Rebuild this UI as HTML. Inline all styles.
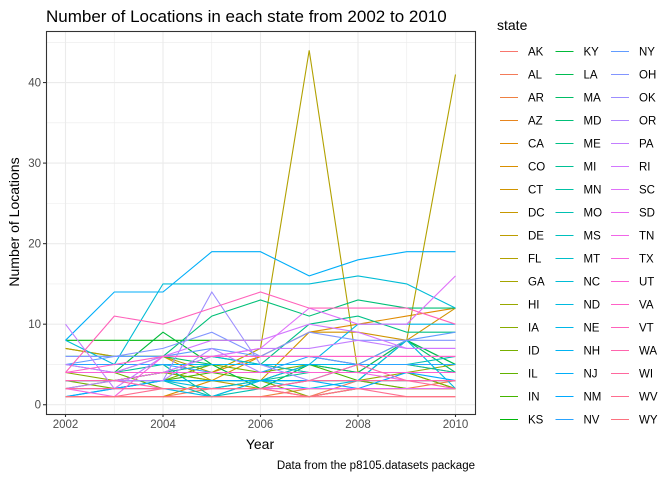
<!DOCTYPE html>
<html><head><meta charset="utf-8">
<style>
html,body{margin:0;padding:0;background:#fff;}
svg{display:block;font-family:"Liberation Sans",sans-serif;}
</style></head>
<body>
<svg id="chart" width="672" height="480" viewBox="0 0 672 480">
<text x="46" y="22" font-size="17" fill="#000">Number of Locations in each state from 2002 to 2010</text>
<rect x="46" y="31" width="429" height="383" fill="#fff"/>
<g id="grid"></g>
<g id="lines"></g>
<rect x="46.5" y="31.5" width="429" height="383" fill="none" stroke="#333" stroke-width="1.1"/>
<g id="axes"></g>
<text x="260" y="449" font-size="14" text-anchor="middle" fill="#000">Year</text>
<text transform="translate(19,222) rotate(-90)" font-size="14" text-anchor="middle" fill="#000">Number of Locations</text>
<text x="475" y="469" font-size="11.5" text-anchor="end" fill="#000">Data from the p8105.datasets package</text>
<text x="497" y="30" font-size="14" fill="#000">state</text>
<g id="legend"></g>
</svg>
<script>
const years = [2002,2003,2004,2005,2006,2007,2008,2009,2010];
const xTicks = [2002,2004,2006,2008,2010];
const yTicks = [0,10,20,30,40];
const states = ["AK","AL","AR","AZ","CA","CO","CT","DC","DE","FL","GA","HI","IA","ID","IL","IN","KS","KY","LA","MA","MD","ME","MI","MN","MO","MS","MT","NC","ND","NE","NH","NJ","NM","NV","NY","OH","OK","OR","PA","RI","SC","SD","TN","TX","UT","VA","VT","WA","WI","WV","WY"];
const AK=[null,null,null,null,1,1,2,2,2];
const AL=[1,1,1,2,2,1,3,2,2];
const AR=[null,null,1,1,1,2,2,2,3];
const AZ=[2,2,2,null,null,3,3,3,3];
const CA=[3,3,4,4,6,9,10,11,12];
const CO=[null,null,1,3,6,6,5,5,4];
const CT=[7,6,6,3,3,9,9,8,12];
const DC=[null,null,null,null,null,2,2,2,2];
const DE=[3,3,3,3,2,2,2,2,2];
const FL=[7,6,6,4,7,44,4,8,41];
const GA=[2,3,4,5,5,4,4,4,2];
const HI=[3,3,4,3,null,null,3,4,5];
const IA=[4,3,4,3,3,1,2,null,null];
const ID=[3,2,3,5,4,5,4,4,2];
const IL=[4,4,2,2,3,3,3,2,2];
const IN=[3,3,3,4,3,5,3,3,3];
const KS=[8,8,8,8,8,null,null,null,null];
const KY=[4,4,9,5,2,5,5,8,5];
const LA=[3,3,3,3,3,3,3,8,5];
const MA=[6,6,6,5,5,5,4,8,4];
const MD=[6,6,6,11,13,11,13,12,12];
const ME=[null,4,6,6,5,10,11,9,9];
const MI=[4,4,5,1,3,4,4,4,4];
const MN=[5,4,4,5,5,5,5,5,4];
const MO=[3,3,3,1,2,3,5,5,6];
const MS=[3,3,3,3,3,3,3,3,3];
const MT=[4,4,4,6,5,4,4,4,4];
const NC=[8,5,15,15,15,15,16,15,12];
const ND=[1,2,3,2,3,2,3,8,2];
const NE=[2,2,2,1,3,5,10,10,10];
const NH=[5,5,5,5,5,5,5,5,5];
const NJ=[8,14,14,19,19,16,18,19,19];
const NM=[1,2,3,3,3,3,2,4,3];
const NV=[5,5,5,4,4,6,5,5,5];
const NY=[5,6,6,7,6,6,5,8,9];
const OH=[6,6,7,9,6,9,8,8,8];
const OK=[3,3,3,14,5,3,3,3,3];
const OR=[2,3,3,7,4,4,4,4,4];
const PA=[10,2,6,6,7,7,8,7,7];
const RI=[5,4,6,8,8,10,9,7,7];
const SC=[3,3,4,6,7,12,10,10,16];
const SD=[2,2,2,2,2,2,2,2,2];
const TN=[4,4,4,4,4,4,4,3,3];
const TX=[2,1,6,6,6,6,6,6,6];
const UT=[4,4,4,4,4,4,4,4,4];
const VA=[4,5,6,6,6,6,6,6,6];
const VT=[4,11,10,12,14,12,12,12,10];
const WA=[3,3,2,2,2,3,5,3,3];
const WI=[2,2,2,2,2,3,3,3,2];
const WV=[1,1,2,2,2,1,2,1,1];
const WY=[1,1,1,1,1,1,1,1,1];
const series=[AK,AL,AR,AZ,CA,CO,CT,DC,DE,FL,GA,HI,IA,ID,IL,IN,KS,KY,LA,MA,MD,ME,MI,MN,MO,MS,MT,NC,ND,NE,NH,NJ,NM,NV,NY,OH,OK,OR,PA,RI,SC,SD,TN,TX,UT,VA,VT,WA,WI,WV,WY];

const NS="http://www.w3.org/2000/svg";
const PL=46,PR=475,PT=31,PB=414;
const xMin=2001.6,xMax=2010.4,yMin=-1.15,yMax=46.4;
function xs(v){return PL+(v-xMin)/(xMax-xMin)*(PR-PL);}
function ys(v){return PB-(v-yMin)/(yMax-yMin)*(PB-PT);}
function hcl(h){
  const L=65,C=100,hr=h*Math.PI/180;
  const u=C*Math.cos(hr),v=C*Math.sin(hr);
  const Y=100*Math.pow((L+16)/116,3);
  const un=0.1978398,vn=0.4683363;
  const up=u/(13*L)+un,vp=v/(13*L)+vn;
  const X=Y*9*up/(4*vp),Z=Y*(12-3*up-20*vp)/(4*vp);
  const x=X/100,y=Y/100,z=Z/100;
  let r=3.2404542*x-1.5371385*y-0.4985314*z;
  let g=-0.9692660*x+1.8760108*y+0.0415560*z;
  let b=0.0556434*x-0.2040259*y+1.0572252*z;
  const gm=c=>{c=c<=0.0031308?12.92*c:1.055*Math.pow(c,1/2.4)-0.055;return Math.round(Math.max(0,Math.min(1,c))*255);};
  return "rgb("+gm(r)+","+gm(g)+","+gm(b)+")";
}
function mk(tag,attrs,parent){const e=document.createElementNS(NS,tag);for(const k in attrs)e.setAttribute(k,attrs[k]);parent.appendChild(e);return e;}

const grid=document.getElementById("grid");
for(let v=5;v<46;v+=10){const l=mk("line",{x1:PL,x2:PR,y1:ys(v),y2:ys(v),stroke:"#ebebeb","stroke-width":0.6},grid);

}
for(let v=2003;v<2010;v+=2){const l=mk("line",{x1:xs(v),x2:xs(v),y1:PT,y2:PB,stroke:"#ebebeb","stroke-width":0.6},grid);

}
yTicks.forEach(v=>{const l=mk("line",{x1:PL,x2:PR,y1:ys(v),y2:ys(v),stroke:"#ebebeb","stroke-width":1.1},grid);

});
xTicks.forEach(v=>{const l=mk("line",{x1:xs(v),x2:xs(v),y1:PT,y2:PB,stroke:"#ebebeb","stroke-width":1.1},grid);

});

const axes=document.getElementById("axes");
yTicks.forEach(v=>{
  const t=mk("line",{x1:PL-3,x2:PL,y1:ys(v),y2:ys(v),stroke:"#333","stroke-width":1.1},axes);
  
  
  const tx=mk("text",{x:PL-5,y:ys(v)+4,"font-size":11.5,"text-anchor":"end",fill:"#4d4d4d"},axes);
  tx.textContent=v;
  
  
});
xTicks.forEach(v=>{
  const t=mk("line",{x1:xs(v),x2:xs(v),y1:PB,y2:PB+3,stroke:"#333","stroke-width":1.1},axes);
  
  
  const tx=mk("text",{x:xs(v),y:PB+14,"font-size":11.5,"text-anchor":"middle",fill:"#4d4d4d"},axes);
  tx.textContent=v;
  
  
});

const lines=document.getElementById("lines");
const legend=document.getElementById("legend");
const n=states.length;
states.forEach((s,i)=>{
  const col=hcl(15+360*i/n);
  const vals=series[i];
  let d="",pen=false;
  vals.forEach((v,j)=>{
    if(v===null){pen=false;return;}
    d+=(pen?"L":"M")+xs(years[j]).toFixed(1)+","+ys(v).toFixed(1);pen=true;
  });
  const p=mk("path",{d:d,fill:"none",stroke:col,"stroke-width":1.1},lines);
  
  
  const c=Math.floor(i/17),r=i%17;
  const lx=500+c*55.5,ly=Math.round(51+r*23)+0.5;
  const g=mk("g",{},legend);
  
  
  mk("line",{x1:lx,x2:lx+18,y1:ly,y2:ly,stroke:col,"stroke-width":1,"shape-rendering":"crispEdges"},g);
  const t=mk("text",{x:lx+28,y:ly+4,"font-size":11.5,fill:"#000"},g);
  t.textContent=s;
});
</script>
</body></html>
